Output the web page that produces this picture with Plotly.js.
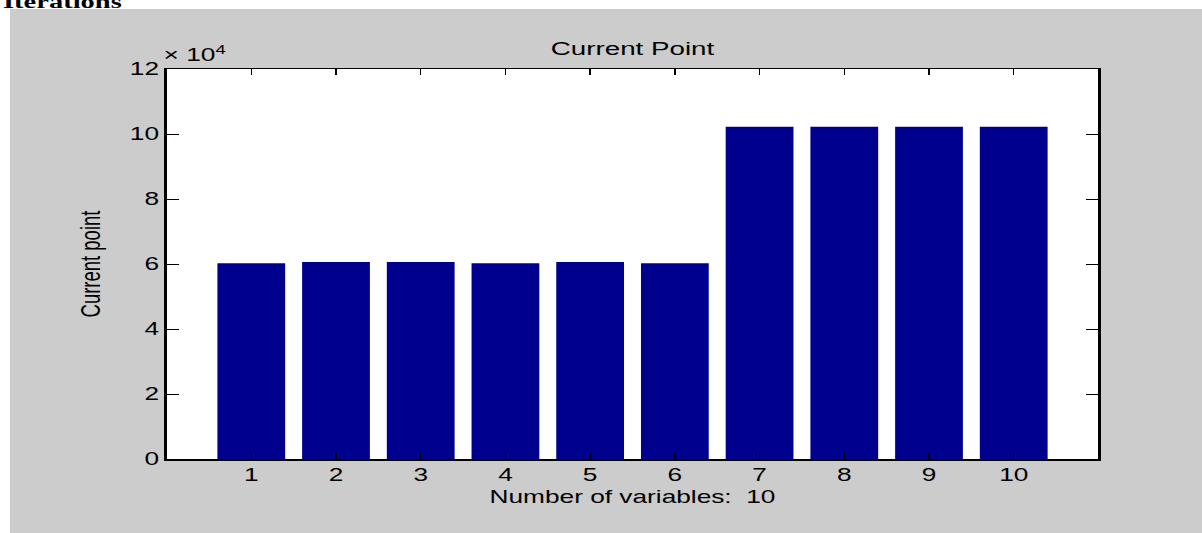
<!DOCTYPE html>
<html>
<head>
<meta charset="utf-8">
<script src="https://cdn.plot.ly/plotly-3.0.1.min.js"></script>
<style>
  html, body { margin: 0; padding: 0; background: #ffffff; overflow: hidden; width: 1202px; height: 533px; }
  #bg { position: absolute; left: 10px; top: 9px; width: 1192px; height: 524px; background: #cccccc; }
  #chart { position: absolute; left: 0; top: 0; width: 801px; height: 533px; transform: scaleX(1.5006); transform-origin: 0 0; }
</style>
</head>
<body>
<div id="bg"></div>
<div id="chart"></div>
<script>
// Data
const variables = [1, 2, 3, 4, 5, 6, 7, 8, 9, 10];
const currentPoint = [60200, 60600, 60600, 60200, 60600, 60200, 102200, 102200, 102200, 102200];
const yTickVals = [0, 20000, 40000, 60000, 80000, 100000, 120000];
const yTickText = ['0', '2', '4', '6', '8', '10', '12'];

const fontFam = 'Liberation Sans, Arial, sans-serif';

const trace = {
  type: 'bar',
  x: variables,
  y: currentPoint,
  width: 0.8,
  marker: { color: '#00008f', line: { width: 0 } },
  hoverinfo: 'x+y'
};

const layout = {
  width: 801,
  height: 533,
  margin: { l: 111, r: 69, t: 69, b: 74, pad: 0 },
  paper_bgcolor: 'rgba(0,0,0,0)',
  plot_bgcolor: '#ffffff',
  showlegend: false,
  title: {
    text: 'Current Point',
    font: { family: fontFam, size: 18.5, color: '#000000' },
    xref: 'paper', x: 0.5, xanchor: 'center',
    yref: 'container', y: 1 - 49 / 533, yanchor: 'middle'
  },
  xaxis: {
    range: [0, 11],
    tickmode: 'array',
    tickvals: variables,
    ticktext: variables.map(String),
    ticks: 'inside',
    ticklen: 6,
    tickwidth: 1,
    tickcolor: '#000000',
    showline: true,
    linecolor: '#000000',
    linewidth: 1.5,
    mirror: 'ticks',
    showgrid: false,
    zeroline: false,
    tickfont: { family: fontFam, size: 17.5, color: '#000000' },
    title: { text: 'Number of variables:  10', font: { family: fontFam, size: 17.5, color: '#000000' }, standoff: 6 }
  },
  yaxis: {
    range: [0, 120000],
    tickmode: 'array',
    tickvals: yTickVals,
    ticktext: yTickText,
    ticks: 'inside',
    ticklen: 8,
    tickwidth: 1,
    tickcolor: '#000000',
    showline: true,
    linecolor: '#000000',
    linewidth: 1.5,
    mirror: 'ticks',
    showgrid: false,
    zeroline: false,
    tickfont: { family: fontFam, size: 17.5, color: '#000000' },
    title: { text: 'Current point', font: { family: fontFam, size: 18.5, color: '#000000' }, standoff: 14 }
  },
  annotations: [
    {
      text: '× 10<sup>4</sup>',
      xref: 'paper', yref: 'paper',
      x: -0.006, y: 1.006,
      xanchor: 'left', yanchor: 'bottom',
      showarrow: false,
      font: { family: fontFam, size: 17.5, color: '#000000' }
    },
    {
      text: '<b>Iterations</b>',
      xref: 'paper', yref: 'paper',
      x: -0.1787, y: 1.1728,
      xanchor: 'left', yanchor: 'middle',
      showarrow: false,
      font: { family: 'Liberation Serif, Times New Roman, serif', size: 19, color: '#000000' }
    }
  ]
};

Plotly.newPlot('chart', [trace], layout, { displayModeBar: false, responsive: false, staticPlot: true });
</script>
</body>
</html>
